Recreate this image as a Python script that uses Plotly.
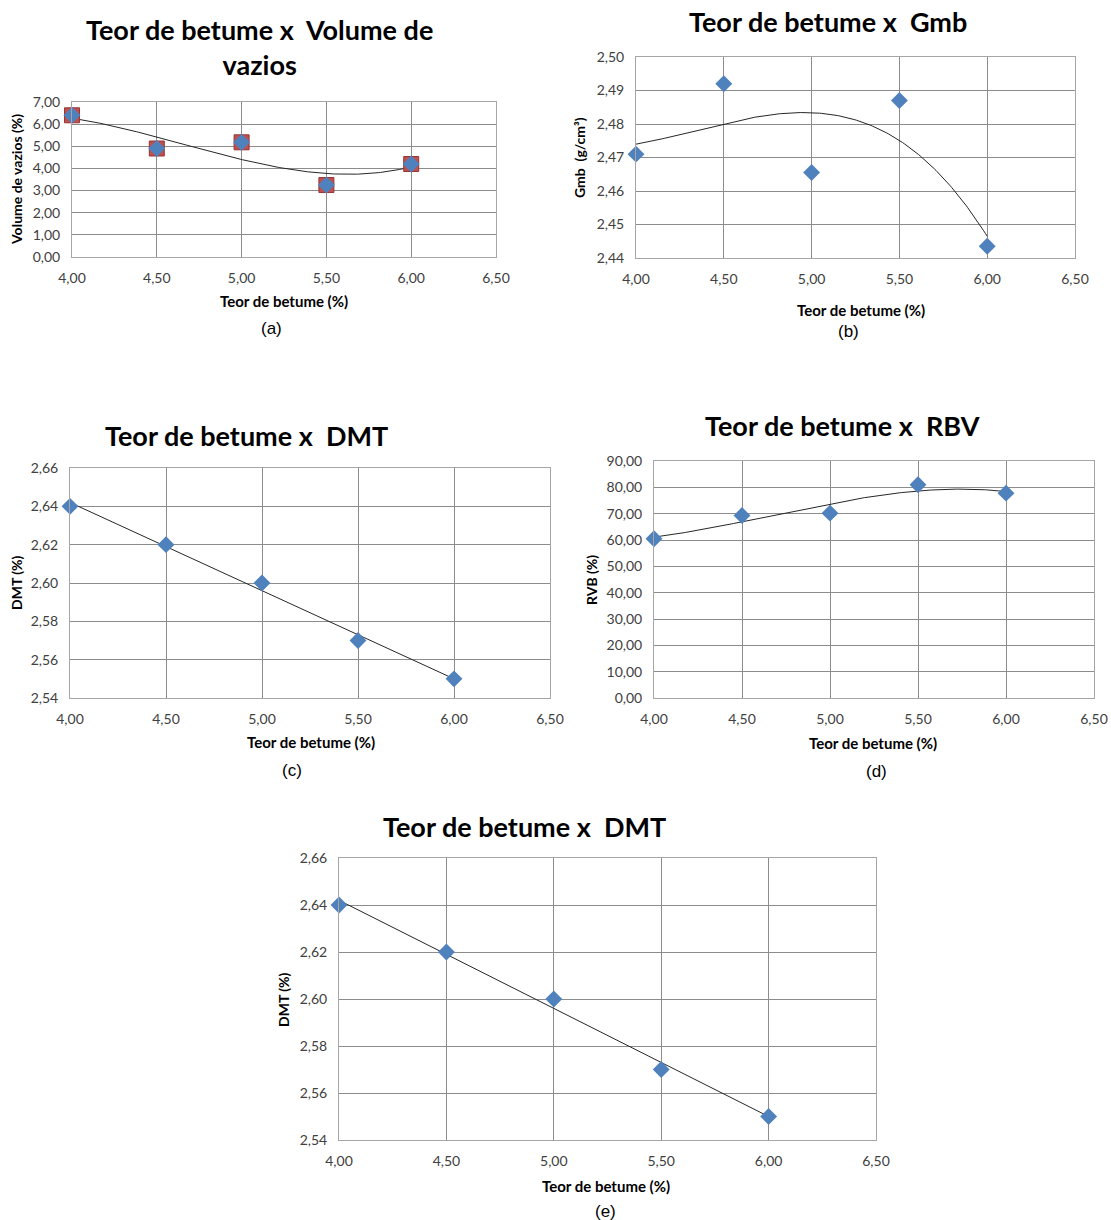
import numpy as np
import plotly.graph_objects as go

W, H = 1111, 1220

teor = [4.0, 4.5, 5.0, 5.5, 6.0]
vazios = [6.40, 4.90, 5.18, 3.25, 4.20]
gmb = [2.471, 2.492, 2.4655, 2.487, 2.4435]
dmt = [2.64, 2.62, 2.60, 2.57, 2.55]
rbv = [60.5, 69.3, 70.2, 81.0, 77.8]

x_ticks = [4.0, 4.5, 5.0, 5.5, 6.0, 6.5]

# panel layout in window pixels: left, right, top, bottom of plot area
panels = {
    "a": dict(box=(72, 496, 102, 257), y=vazios, deg=3, yr=(0, 7), dy=1.0, fmt=".2f",
              title="Teor de betume x&nbsp; Volume de<br>vazios", ttl_xy=(259, 47),
              ytitle="Volume de vazios (%)", yt_xy=(17, 180),
              xt_xy=(284, 301), cap="(a)", cap_xy=(271, 328)),
    "b": dict(box=(636, 1075, 57, 258), y=gmb, deg=3, yr=(2.44, 2.50), dy=0.01, fmt=".2f",
              title="Teor de betume x&nbsp; Gmb", ttl_xy=(828, 21),
              ytitle="Gmb&nbsp; (g/cm³)", yt_xy=(580, 158),
              xt_xy=(861, 310), cap="(b)", cap_xy=(848, 332)),
    "c": dict(box=(70, 550, 468, 698), y=dmt, deg=1, yr=(2.54, 2.66), dy=0.02, fmt=".2f",
              title="Teor de betume x&nbsp; DMT", ttl_xy=(246, 435),
              ytitle="DMT (%)", yt_xy=(16, 583),
              xt_xy=(311, 742), cap="(c)", cap_xy=(292, 770)),
    "d": dict(box=(654, 1094, 461, 698), y=rbv, deg=3, yr=(0, 90), dy=10, fmt=".2f",
              title="Teor de betume x&nbsp; RBV", ttl_xy=(842, 425),
              ytitle="RVB (%)", yt_xy=(591, 580),
              xt_xy=(873, 743), cap="(d)", cap_xy=(876, 771)),
    "e": dict(box=(339, 876, 858, 1140), y=dmt, deg=1, yr=(2.54, 2.66), dy=0.02, fmt=".2f",
              title="Teor de betume x&nbsp; DMT", ttl_xy=(524, 826),
              ytitle="DMT (%)", yt_xy=(283, 1000),
              xt_xy=(606, 1186), cap="(e)", cap_xy=(605, 1211)),
}


def px(x):
    return x / W


def py(y):
    return 1 - y / H


BLUE = "#4F81BD"
GRID = "#8C8C8C"
TICKC = "#404040"
TFONT = "Lato, 'Open Sans', sans-serif"

fig = go.Figure()
annotations = []
layout_axes = {}

for i, (key, p) in enumerate(panels.items(), start=1):
    l, r, t, b = p["box"]
    xa = "x" if i == 1 else f"x{i}"
    ya = "y" if i == 1 else f"y{i}"
    xkey = "xaxis" if i == 1 else f"xaxis{i}"
    ykey = "yaxis" if i == 1 else f"yaxis{i}"

    # trendline (polynomial fit of the data, as the spreadsheet trendline)
    coef = np.polyfit(teor, p["y"], p["deg"])
    xs = np.linspace(teor[0], teor[-1], 200)
    ys = np.polyval(coef, xs)
    fig.add_trace(go.Scatter(x=xs, y=ys, mode="lines", xaxis=xa, yaxis=ya,
                             line=dict(color="#262626", width=1), showlegend=False,
                             hoverinfo="skip", cliponaxis=False))
    if key == "a":
        fig.add_trace(go.Scatter(x=teor, y=p["y"], mode="markers", xaxis=xa, yaxis=ya,
                                 marker=dict(symbol="square", size=15, color="#C0504D",
                                             line=dict(color="#943634", width=1)),
                                 showlegend=False, cliponaxis=False))
    fig.add_trace(go.Scatter(x=teor, y=p["y"], mode="markers", xaxis=xa, yaxis=ya,
                             marker=dict(symbol="diamond", size=13, color=BLUE,
                                         line=dict(width=0)),
                             showlegend=False, cliponaxis=False))

    layout_axes[xkey] = dict(
        domain=[px(l), px(r)], anchor=ya, range=[4.0, 6.5], tickvals=x_ticks,
        tickformat=".2f", showgrid=True, gridcolor=GRID, gridwidth=1,
        showline=True, linecolor="#A6A6A6", mirror=True, zeroline=False,
        automargin=False, ticks="", ticklabelstandoff=8,
        tickfont=dict(family=TFONT, size=14, color=TICKC))
    yt = list(np.round(np.arange(p["yr"][0], p["yr"][1] + p["dy"] / 2, p["dy"]), 4))
    layout_axes[ykey] = dict(
        domain=[py(b), py(t)], anchor=xa, range=list(p["yr"]), tickvals=yt,
        tickformat=p["fmt"], showgrid=True, gridcolor=GRID, gridwidth=1,
        showline=True, linecolor="#A6A6A6", mirror=True, zeroline=False,
        automargin=False, ticks="", ticklabelstandoff=8,
        tickfont=dict(family=TFONT, size=14, color=TICKC))

    tx, ty = p["ttl_xy"]
    annotations.append(dict(text=p["title"], x=px(tx), y=py(ty), xref="paper", yref="paper",
                            showarrow=False, xanchor="center", yanchor="middle",
                            font=dict(family=TFONT, size=27, color="black", weight="bold")))
    yx, yy = p["yt_xy"]
    annotations.append(dict(text=p["ytitle"], x=px(yx), y=py(yy), xref="paper", yref="paper",
                            showarrow=False, textangle=-90, xanchor="center", yanchor="middle",
                            font=dict(family=TFONT, size=14, color="black", weight="bold")))
    xx, xy = p["xt_xy"]
    annotations.append(dict(text="Teor de betume (%)", x=px(xx), y=py(xy), xref="paper",
                            yref="paper", showarrow=False, xanchor="center", yanchor="middle",
                            font=dict(family=TFONT, size=15, color="black", weight="bold")))
    cx, cy = p["cap_xy"]
    annotations.append(dict(text=p["cap"], x=px(cx), y=py(cy), xref="paper", yref="paper",
                            showarrow=False, xanchor="center", yanchor="middle",
                            font=dict(family="Liberation Sans, Arial, sans-serif", size=17,
                                      color="black")))

fig.update_layout(
    width=W, height=H, margin=dict(l=0, r=0, t=0, b=0, autoexpand=False),
    paper_bgcolor="white", plot_bgcolor="white", separators=",.",
    annotations=annotations, showlegend=False, **layout_axes)

# remove the default page margin so the figure fills the window exactly
fig.write_html("out.html", config={"displayModeBar": False},
               post_script="document.body.style.margin='0';"
                           "document.body.style.overflow='hidden';")
